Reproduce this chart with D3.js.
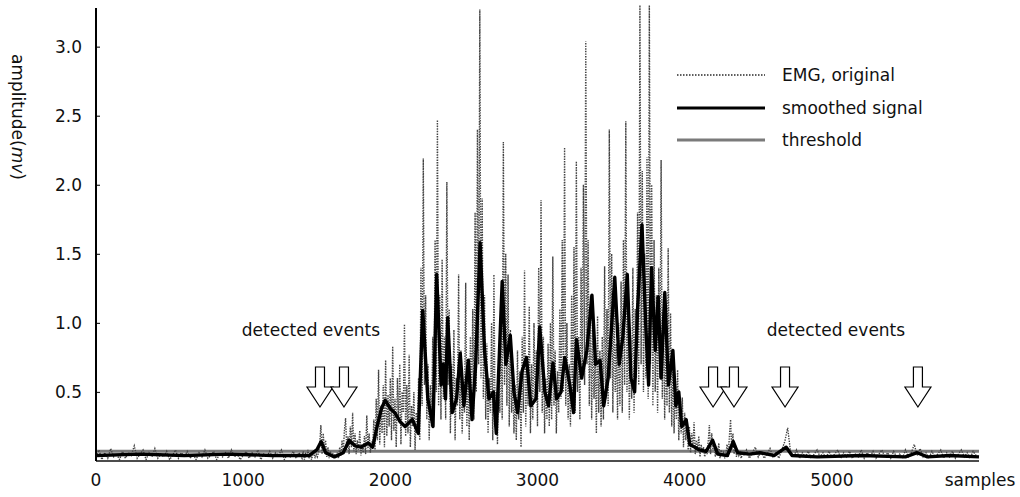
<!DOCTYPE html>
<html>
<head>
<meta charset="utf-8">
<script src="https://cdn.jsdelivr.net/npm/d3@7"></script>
<style>
  html, body { margin: 0; padding: 0; background: #fff; }
  svg { display: block; }
  text { font-family: "DejaVu Sans", sans-serif; fill: #111; }
</style>
</head>
<body>
<svg id="chart" width="1020" height="497"></svg>
<script>
// ---------------- data ----------------
// raw EMG, pre-activity part: samples 0..1380, step 20
const emgPreStart = 0, emgPreStep = 20;
const emgPre = [
  0.03,0.08,0.01,0.06,0.02,0.09,0.03,0.05,0.01,0.07,
  0.02,0.06,0.04,0.11,0.02,0.05,0.08,0.01,0.06,0.03,
  0.09,0.02,0.05,0.03,0.07,0.01,0.04,0.08,0.02,0.06,
  0.03,0.07,0.02,0.05,0.01,0.06,0.03,0.08,0.02,0.04,
  0.07,0.01,0.05,0.03,0.06,0.02,0.08,0.03,0.05,0.01,
  0.04,0.07,0.02,0.06,0.03,0.08,0.01,0.05,0.03,0.07,
  0.02,0.06,0.04,0.08,0.01,0.05,0.03,0.07,0.02,0.06];
// raw EMG, active part: samples 1400..4392, step 8
const emgActStart = 1400, emgActStep = 8;
const emgAct = [
  0.02,0.07,0.01,0.05,0.03,0.08,0.02,0.06,0.01,0.04,0.07,0.02,0.05,0.03,0.06,
  0.12,0.26,0.05,0.20,0.08,0.15,0.03,0.10,0.02,0.07,0.04,0.06,0.02,0.05,0.03,
  0.06,0.02,0.10,0.04,0.15,0.06,0.22,0.31,0.08,0.18,0.05,0.25,0.10,0.35,0.07,
  0.20,0.05,0.15,0.08,0.22,0.04,0.12,0.06,0.18,0.05,0.33,0.09,0.20,0.06,0.14,
  0.10,0.30,0.08,0.45,0.15,0.66,0.12,0.40,0.20,0.55,0.10,0.73,0.18,0.48,0.25,
  0.60,0.15,0.83,0.22,0.45,0.10,0.60,0.28,0.70,0.12,0.50,0.35,0.99,0.18,0.55,
  0.20,0.77,0.10,0.40,0.25,0.50,0.08,0.35,0.22,0.60,0.15,1.40,0.40,2.19,0.55,
  1.20,0.30,0.70,0.15,0.55,0.25,0.90,0.35,1.60,0.50,2.47,0.40,1.20,0.30,1.46,
  0.45,0.90,0.30,2.02,0.55,1.10,0.20,0.70,0.35,0.95,0.15,0.60,0.40,1.35,0.30,
  0.80,0.20,0.55,0.35,1.29,0.25,0.70,0.15,0.90,0.40,1.10,0.30,1.80,0.50,2.40,
  0.70,3.27,0.60,1.90,0.45,1.20,0.30,0.85,0.20,0.60,0.35,1.00,0.15,1.35,0.25,
  0.50,0.12,0.70,0.35,1.10,0.30,2.31,0.55,1.50,0.40,1.35,0.25,0.95,0.35,0.60,
  0.20,0.55,0.15,0.80,0.30,0.65,0.10,0.90,0.35,1.38,0.25,0.75,0.40,1.12,0.20,
  0.70,0.30,1.00,0.45,0.80,0.25,1.40,0.50,1.89,0.35,0.90,0.20,0.60,0.30,0.85,
  0.25,1.00,0.30,1.48,0.40,0.80,0.20,0.65,0.35,1.10,0.45,1.60,0.50,2.27,0.40,
  1.00,0.30,0.70,0.25,1.20,0.40,1.55,0.35,2.17,0.50,0.90,0.30,1.40,0.60,2.00,
  0.55,3.04,0.70,1.60,0.40,1.20,0.30,0.95,0.45,0.75,0.20,1.05,0.35,0.80,0.25,
  0.90,0.30,1.41,0.45,1.10,0.40,2.40,0.60,1.50,0.35,1.20,0.50,0.85,0.30,1.00,
  0.40,1.30,0.35,1.60,0.55,2.46,0.50,1.20,0.30,0.90,0.45,1.40,0.35,1.10,0.60,
  1.80,0.55,3.30,0.70,2.10,0.50,1.50,0.60,2.20,0.45,3.30,0.70,2.00,0.40,1.60,
  0.50,1.20,0.35,1.40,0.60,2.18,0.45,1.10,0.30,0.90,0.40,1.54,0.35,1.07,0.25,
  0.80,0.20,0.60,0.30,0.66,0.15,0.45,0.20,0.46,0.10,0.35,0.15,0.30,0.08,0.25,
  0.06,0.20,0.10,0.28,0.05,0.15,0.08,0.18,0.03,0.12,0.06,0.10,0.03,0.08,0.05,
  0.14,0.26,0.05,0.20,0.08,0.14,0.03,0.10,0.05,0.13,0.02,0.08,0.04,0.06,0.02,
  0.05,0.12,0.03,0.18,0.30,0.08,0.20,0.05,0.12,0.03,0.08,0.04,0.06,0.02,0.05];
// raw EMG, post-activity part: samples 4400..5980, step 20
const emgPostStart = 4400, emgPostStep = 20;
const emgPost = [
  0.04,0.08,0.02,0.06,0.10,0.03,0.07,0.02,0.05,0.09,
  0.03,0.06,0.02,0.08,0.14,0.24,0.06,0.03,0.08,0.02,
  0.06,0.03,0.07,0.02,0.05,0.08,0.03,0.06,0.02,0.07,
  0.03,0.05,0.08,0.02,0.06,0.03,0.07,0.02,0.05,0.03,
  0.08,0.02,0.06,0.03,0.07,0.02,0.05,0.08,0.03,0.06,
  0.02,0.07,0.03,0.05,0.02,0.08,0.03,0.06,0.12,0.04,
  0.09,0.03,0.06,0.02,0.07,0.03,0.05,0.08,0.02,0.06,
  0.03,0.07,0.02,0.05,0.08,0.03,0.06,0.02,0.07,0.04];
// smoothed signal: sample positions and values
const smoothX = [0,300,600,900,1200,1450,1500,1530,1560,1620,1680,1720,1760,1800,1850,1880,
  1910,1940,1965,2000,2030,2070,2100,2150,2190,2220,2255,2290,2315,2345,2360,2375,2390,2420,
  2450,2475,2500,2530,2555,2580,2610,2640,2670,2700,2720,2760,2785,2815,2840,2865,2895,2925,
  2955,2990,3015,3050,3075,3105,3130,3160,3185,3220,3245,3265,3300,3335,3370,3395,3425,3450,
  3480,3505,3525,3555,3580,3610,3635,3660,3680,3710,3735,3755,3775,3800,3820,3840,3865,3890,
  3920,3940,3960,3980,4010,4035,4070,4100,4145,4190,4225,4290,4330,4360,4440,4510,4610,4690,
  4730,4900,5200,5500,5580,5650,5800,6000];
const smoothY = [0.04,0.05,0.04,0.05,0.04,0.04,0.08,0.14,0.06,0.03,0.06,0.15,0.11,0.10,0.13,0.10,
  0.25,0.38,0.44,0.38,0.35,0.28,0.25,0.30,0.20,1.09,0.45,0.25,1.35,0.55,0.70,0.45,1.04,0.35,
  0.45,0.78,0.40,0.73,0.30,0.70,1.58,0.80,0.45,0.50,0.20,1.30,0.70,0.91,0.50,0.35,0.65,0.75,
  0.40,0.45,0.97,0.50,0.40,0.71,0.45,0.50,0.75,0.55,0.35,0.88,0.60,0.80,1.20,0.70,0.73,0.40,
  0.60,1.00,1.33,0.70,0.90,1.35,0.60,0.50,1.10,1.71,1.00,0.55,1.40,0.80,1.19,0.60,1.22,0.55,
  0.80,0.40,0.50,0.25,0.30,0.12,0.10,0.08,0.07,0.15,0.05,0.04,0.14,0.06,0.05,0.06,0.04,0.10,
  0.04,0.03,0.04,0.03,0.06,0.03,0.04,0.03];
// detection threshold
const thresholdX = [0, 6000];
const thresholdY = [0.07, 0.07];
// detected events (sample positions of arrows)
const eventSamples = [1522, 1685, 4193, 4335, 4682, 5585];
// axes
const xTicks = [0, 1000, 2000, 3000, 4000, 5000];
const yTicks = [0.5, 1.0, 1.5, 2.0, 2.5, 3.0];
const legendLabels = ["EMG, original", "smoothed signal", "threshold"];

// ---------------- drawing ----------------
const svg = d3.select("#chart");
const x = d3.scaleLinear().domain([0, 6000]).range([96, 979]);
const y = d3.scaleLinear().domain([0, 3.28]).range([461, 8]);

const emg = [];
emgPre.forEach((v, i) => emg.push([emgPreStart + i * emgPreStep, v]));
emgAct.forEach((v, i) => emg.push([emgActStart + i * emgActStep, v]));
emgPost.forEach((v, i) => emg.push([emgPostStart + i * emgPostStep, v]));

const line = d3.line().x(d => x(d[0])).y(d => y(d[1]));

// x axis baseline
svg.append("line").attr("x1", x(0)).attr("x2", x(6000)).attr("y1", y(0)).attr("y2", y(0))
  .attr("stroke", "#111").attr("stroke-width", 1.5);

// threshold
svg.append("path").datum(thresholdX.map((s, i) => [s, thresholdY[i]]))
  .attr("d", line).attr("fill", "none").attr("stroke", "#7a7a7a").attr("stroke-width", 3);

// EMG original
svg.append("path").datum(emg).attr("d", line).attr("fill", "none")
  .attr("stroke", "#444").attr("stroke-width", 1.4).attr("stroke-dasharray", "1.4,1.2");

// smoothed
svg.append("path").datum(smoothX.map((s, i) => [s, smoothY[i]]))
  .attr("d", line).attr("fill", "none").attr("stroke", "#000").attr("stroke-width", 3.4)
  .attr("stroke-linejoin", "round");

// y axis
const yAxis = d3.axisRight(y).tickValues(yTicks).tickSize(4).tickFormat("");
const gy = svg.append("g").attr("transform", `translate(${x(0)},0)`).call(yAxis);
gy.select(".domain").remove();
gy.selectAll(".tick line").attr("stroke", "#222").attr("stroke-width", 1.2);
svg.append("line").attr("x1", x(0)).attr("x2", x(0)).attr("y1", 8).attr("y2", y(0))
  .attr("stroke", "#000").attr("stroke-width", 2);
svg.selectAll(".ylab").data(yTicks).enter().append("text").attr("class", "ylab")
  .attr("x", 82).attr("y", d => y(d) + 6).attr("text-anchor", "end")
  .attr("font-size", 17).text(d => d.toFixed(1));

// x tick labels
svg.selectAll(".xlab").data(xTicks).enter().append("text").attr("class", "xlab")
  .attr("x", d => x(d)).attr("y", 486).attr("text-anchor", "middle")
  .attr("font-size", 17).text(d => d);
svg.append("text").attr("x", 980).attr("y", 486).attr("text-anchor", "middle")
  .attr("font-size", 17).text("samples");

// y title
const yt = svg.append("text").attr("transform", "translate(12,117) rotate(90)")
  .attr("text-anchor", "middle").attr("font-size", 17);
yt.append("tspan").text("amplitude(");
yt.append("tspan").attr("font-style", "italic").text("mv");
yt.append("tspan").text(")");

// detected events labels
svg.append("text").attr("x", 311).attr("y", 336).attr("text-anchor", "middle")
  .attr("font-size", 17).text("detected events");
svg.append("text").attr("x", 836).attr("y", 336).attr("text-anchor", "middle")
  .attr("font-size", 17).text("detected events");

// arrows
const arrow = cx => `M${cx - 4.5},367 L${cx + 4.5},367 L${cx + 4.5},387 L${cx + 13},387 L${cx},407 L${cx - 13},387 L${cx - 4.5},387 Z`;
svg.selectAll(".arrow").data(eventSamples).enter().append("path").attr("class", "arrow")
  .attr("d", d => arrow(x(d))).attr("fill", "#fff").attr("stroke", "#000").attr("stroke-width", 1.2);

// legend
const lg = svg.append("g");
const ly = [75, 108, 140];
lg.append("line").attr("x1", 677).attr("x2", 765).attr("y1", ly[0]).attr("y2", ly[0])
  .attr("stroke", "#2a2a2a").attr("stroke-width", 1.5).attr("stroke-dasharray", "1.5,1.5");
lg.append("line").attr("x1", 677).attr("x2", 765).attr("y1", ly[1]).attr("y2", ly[1])
  .attr("stroke", "#000").attr("stroke-width", 3);
lg.append("line").attr("x1", 677).attr("x2", 765).attr("y1", ly[2]).attr("y2", ly[2])
  .attr("stroke", "#7a7a7a").attr("stroke-width", 3);
lg.selectAll(".lt").data(legendLabels).enter().append("text").attr("class", "lt")
  .attr("x", 782).attr("y", (d, i) => ly[i] + 6).attr("font-size", 17).text(d => d);
</script>
</body>
</html>
